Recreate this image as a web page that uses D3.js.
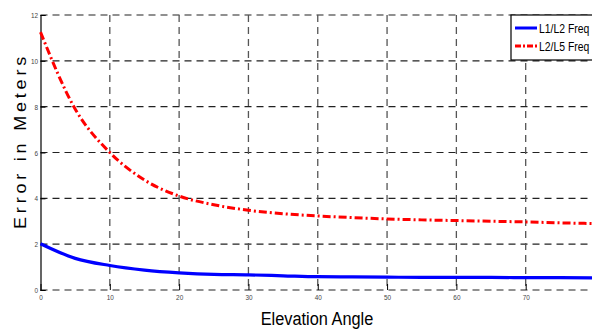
<!DOCTYPE html>
<html>
<head>
<meta charset="utf-8">
<script src="https://cdn.jsdelivr.net/npm/d3@7"></script>
<style>
  body { margin: 0; background: #fff; }
  svg { display: block; font-family: "Liberation Sans", Arial, sans-serif; }
</style>
</head>
<body>
<script>
// elevation angles (deg) and errors (m)
const angles = [0, 5, 10, 15, 20, 25, 30, 35, 40, 45, 50, 55, 60, 65, 70, 75, 80];
const l1l2 = [2.02, 1.38, 1.07, 0.87, 0.75, 0.68, 0.66, 0.62, 0.58, 0.57, 0.56, 0.55, 0.55, 0.55, 0.54, 0.54, 0.53];
const l2l5 = [11.25, 7.9, 6.0, 4.8, 4.1, 3.72, 3.48, 3.33, 3.23, 3.16, 3.1, 3.06, 3.03, 3.0, 2.97, 2.93, 2.9];
const xTicks = [0, 10, 20, 30, 40, 50, 60, 70];
const yTicks = [0, 2, 4, 6, 8, 10, 12];
const seriesNames = ["L1/L2 Freq", "L2/L5 Freq"];

const w = 592, h = 329;
const padL = 40.5, padR = 595, padT = 15, padB = 290;
const narrow = 0.8; // squeeze text to look like a narrow face

const svg = d3.select("body").append("svg")
  .attr("width", w).attr("height", h);

const x = d3.scaleLinear().domain([0, 80]).range([padL, padR]);
const y = d3.scaleLinear().domain([0, 12]).range([padB, padT]);

// grid
svg.append("g").selectAll("line").data(yTicks).enter().append("line")
  .attr("x1", padL).attr("x2", padR)
  .attr("y1", d => y(d)).attr("y2", d => y(d))
  .attr("stroke", "#222").attr("stroke-width", 1.1)
  .attr("stroke-dasharray", "7,5");

svg.append("g").selectAll("line").data(xTicks.slice(1)).enter().append("line")
  .attr("x1", d => x(d)).attr("x2", d => x(d))
  .attr("y1", padT).attr("y2", padB)
  .attr("stroke", "#555").attr("stroke-width", 1.3)
  .attr("stroke-dasharray", "7,5");

// axes
const xAxis = d3.axisBottom(x).tickValues(xTicks).tickSize(-6).tickPadding(4);
const gx = svg.append("g").attr("transform", "translate(0," + padB + ")").call(xAxis);
gx.select(".domain").remove();
gx.selectAll("line").attr("stroke", "#000");
gx.selectAll("text").attr("font-size", 8).attr("fill", "#444")
  .attr("transform", "scale(" + narrow + ",1)");

const yAxis = d3.axisLeft(y).tickValues(yTicks).tickSize(-5).tickPadding(3);
const gy = svg.append("g").attr("transform", "translate(" + padL + ",0)").call(yAxis);
gy.select(".domain").attr("stroke", "#000").attr("stroke-width", 1.2);
gy.selectAll("line").attr("stroke", "#000");
gy.selectAll("text").attr("font-size", 8).attr("fill", "#444")
  .attr("transform", "scale(" + narrow + ",1)");

// lines
const line = vals => d3.line()
  .x((d, i) => x(angles[i]))
  .y(d => y(d))
  .curve(d3.curveMonotoneX)(vals);

svg.append("path").attr("d", line(l1l2))
  .attr("fill", "none").attr("stroke", "#0000ff").attr("stroke-width", 3.2);

svg.append("path").attr("d", line(l2l5))
  .attr("fill", "none").attr("stroke", "#ff0000").attr("stroke-width", 3)
  .attr("stroke-dasharray", "8,3,2,3");

// legend
const lg = svg.append("g").attr("transform", "translate(511,15)");
lg.append("rect").attr("width", 100).attr("height", 45)
  .attr("fill", "#fff").attr("stroke", "#000").attr("stroke-width", 1.2);
const colors = ["#0000ff", "#ff0000"];
const dashes = [null, "6,2,2,2"];
seriesNames.forEach((name, i) => {
  lg.append("line").attr("x1", 4).attr("x2", 26)
    .attr("y1", 13 + i * 18).attr("y2", 13 + i * 18)
    .attr("stroke", colors[i]).attr("stroke-width", 3)
    .attr("stroke-dasharray", dashes[i]);
  lg.append("text")
    .attr("transform", "translate(28," + (18 + i * 18) + ") scale(0.8,1)")
    .attr("font-size", 13).attr("fill", "#000").text(name);
});

// labels
svg.append("text")
  .attr("transform", "translate(317,325) scale(0.86,1)")
  .attr("text-anchor", "middle").attr("font-size", 19).text("Elevation Angle");

svg.append("text")
  .attr("transform", "translate(26,141) rotate(-90) scale(1,0.9)")
  .attr("text-anchor", "middle").attr("font-size", 18)
  .attr("letter-spacing", 3.8).text("Error in Meters");
</script>
</body>
</html>
